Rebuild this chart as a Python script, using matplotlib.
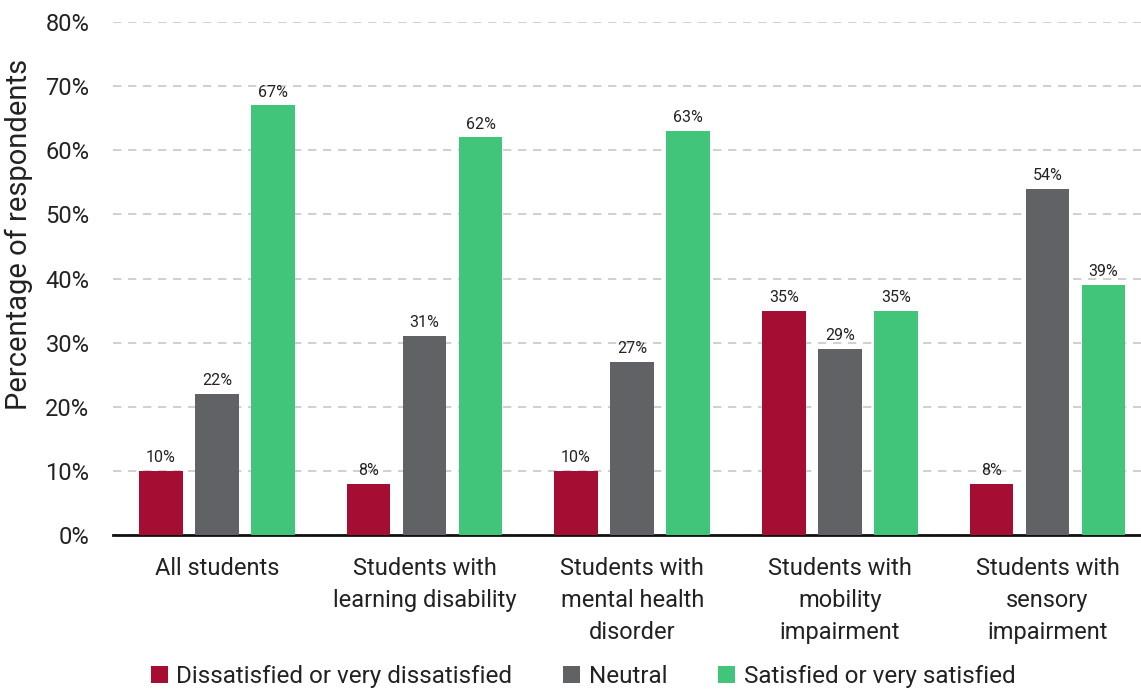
import matplotlib
matplotlib.use("Agg")
import matplotlib.pyplot as plt
import numpy as np

categories = ["All students", "Students with\nlearning disability", "Students with\nmental health\ndisorder",
              "Students with\nmobility\nimpairment", "Students with\nsensory\nimpairment"]
dissatisfied = [10, 8, 10, 35, 8]
neutral = [22, 31, 27, 29, 54]
satisfied = [67, 62, 63, 35, 39]
series_names = ["Dissatisfied or very dissatisfied", "Neutral", "Satisfied or very satisfied"]
colors = ["#A50D33", "#606265", "#41C57A"]
yticks = [0, 10, 20, 30, 40, 50, 60, 70, 80]

plt.rcParams['font.family'] = ['Roboto', 'DejaVu Sans']

fig = plt.figure(figsize=(11.41, 6.89), dpi=100)
ax = fig.add_axes([113/1141, 1-535/689, 1-113/1141, (535-22)/689])

x = np.arange(len(categories))
w = 0.21
off = 0.27
for i, (vals, c, name) in enumerate(zip([dissatisfied, neutral, satisfied], colors, series_names)):
    bars = ax.bar(x + (i-1)*off, vals, width=w, color=c, label=name, zorder=3)
    for b, v in zip(bars, vals):
        ax.text(b.get_x()+b.get_width()/2, v+0.9, f"{v}%", ha='center', va='bottom',
                fontsize=11.5, color='#222222', zorder=4)

ax.set_ylim(0, 80)
ax.set_xlim(-0.5, 4.45)
ax.set_yticks(yticks)
ax.set_yticklabels([f"{t}%" for t in yticks], fontsize=17, color='#222222')
ax.tick_params(axis='y', length=0, pad=17)
ax.tick_params(axis='x', length=0, pad=16)
ax.set_xticks(x)
ax.set_xticklabels(categories, fontsize=17, color='#222222', linespacing=1.5, va='top')
ax.yaxis.grid(True, linestyle=(0, (5, 4)), color='#C8C8C8', linewidth=1.2, zorder=0)
for s in ['top', 'right', 'left']:
    ax.spines[s].set_visible(False)
ax.spines['bottom'].set_linewidth(2)
ax.spines['bottom'].set_color('#111111')
ax.set_ylabel("Percentage of respondents", fontsize=21, color='#222222')
ax.yaxis.set_label_coords(-80/1028, 0.585)

fig.legend(loc='lower center', bbox_to_anchor=(0.511, -0.03), ncol=3, frameon=False,
           fontsize=17.5, handlelength=0.7, handleheight=0.7, handletextpad=0.35, columnspacing=2.1,
           labelcolor='#222222')

fig.savefig("out.png", dpi=100, facecolor='white')
